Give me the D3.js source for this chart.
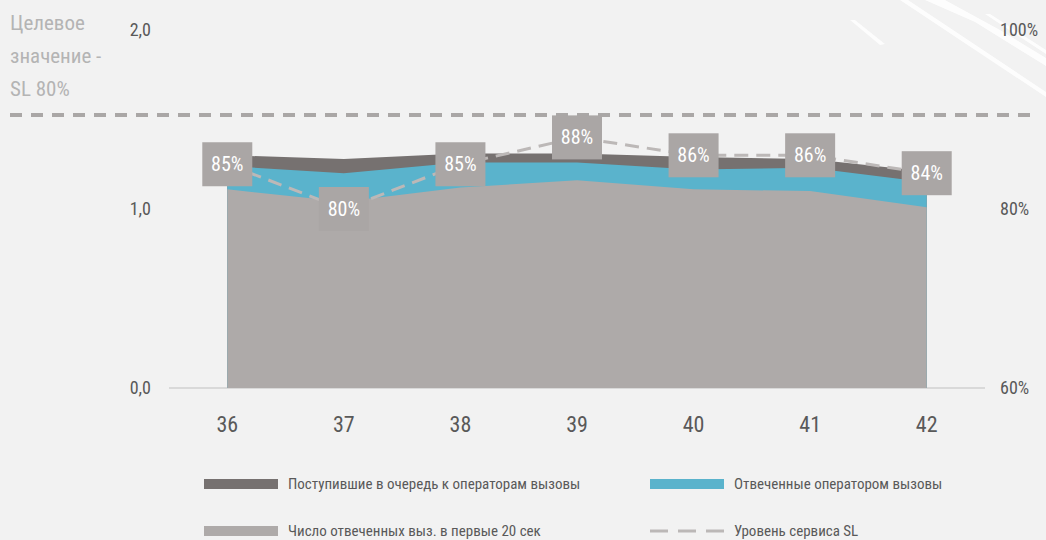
<!DOCTYPE html>
<html>
<head>
<meta charset="utf-8">
<script src="https://cdn.jsdelivr.net/npm/d3@7"></script>
<style>
  body { margin: 0; background: #f2f2f2; }
  svg { display: block; }
</style>
</head>
<body>
<div id="chart"></div>
<script>
//data to display
const weeks = [36, 37, 38, 39, 40, 41, 42];
const queued = [1.30, 1.28, 1.31, 1.31, 1.29, 1.28, 1.21];     // Поступившие в очередь
const answered = [1.24, 1.20, 1.26, 1.26, 1.22, 1.23, 1.15];   // Отвеченные оператором
const answered20 = [1.11, 1.04, 1.12, 1.16, 1.11, 1.10, 1.01]; // в первые 20 сек
const serviceLevel = [85, 80, 85, 88, 86, 86, 84];
const leftTicks = [0, 1, 2];
const rightTicks = [60, 80, 100];
const target = 80;

//Measures
const chartWidth = 1046;
const chartHeight = 540;
const plotTop = 30;
const plotBottom = 388;

//Colors
const darkColor = "#767170";
const blueColor = "#5ab3cc";
const grayColor = "#aeaaa9";
const labelColor = "#595959";
const dashColor = "#bcb8b7";

const fontFamily = "'Liberation Sans Narrow', 'Arial Narrow', 'Roboto Condensed', sans-serif";

const svg = d3.select('#chart').append('svg')
    .attr('width', chartWidth)
    .attr('height', chartHeight)
    .style('font-family', fontFamily);

const x = d3.scalePoint().domain(weeks).range([169, 985]).padding(0.5);
const yLeft = d3.scaleLinear().domain([0, 2]).range([plotBottom, plotTop]);
const yRight = d3.scaleLinear().domain([60, 100]).range([plotBottom, plotTop]);

drawBackground();
drawTarget();
drawAxes();
drawAreas();
drawServiceLevel();
drawLegend();

//decorative white brush strokes top right
function drawBackground() {
    const g = svg.append('g').attr('fill', '#ffffff').attr('opacity', 0.9);
    g.append('path').attr('d', 'M900,0 L908,0 L1046,92 L1046,97 Z');
    g.append('path').attr('d', 'M925,0 L945,0 L1000,30 L1046,58 L1046,66 L975,22 Z');
    g.append('path').attr('d', 'M850,20 L855,20 L885,44 L880,45 Z');
    g.append('path').attr('d', 'M985,14 L990,14 L1046,50 L1046,54 Z');
}

function drawTarget() {
    svg.append('line')
        .attr('x1', 10).attr('x2', 1036)
        .attr('y1', 115).attr('y2', 115)
        .attr('stroke', '#aaa7a6')
        .attr('stroke-width', 4)
        .attr('stroke-dasharray', '12,9');
    const lines = ['Целевое', 'значение -', 'SL ' + target + '%'];
    svg.append('g').selectAll('text').data(lines).join('text')
        .attr('x', 10)
        .attr('y', (d, i) => 23 + i * 33)
        .attr('dy', '0.35em')
        .attr('fill', '#b4b4b4')
        .attr('font-size', 21)
        .text(d => d);
}

function drawAxes() {
    svg.append('line')
        .attr('x1', 169).attr('x2', 985)
        .attr('y1', plotBottom).attr('y2', plotBottom)
        .attr('stroke', '#d9d9d9')
        .attr('stroke-width', 2);

    svg.append('g').selectAll('text').data(leftTicks).join('text')
        .attr('x', 151)
        .attr('y', d => yLeft(d))
        .attr('dy', '0.35em')
        .attr('text-anchor', 'end')
        .attr('fill', labelColor)
        .attr('font-size', 18)
        .text(d => d3.format('.1f')(d).replace('.', ','));

    svg.append('g').selectAll('text').data(rightTicks).join('text')
        .attr('x', 1000)
        .attr('y', d => yRight(d))
        .attr('dy', '0.35em')
        .attr('fill', labelColor)
        .attr('font-size', 18)
        .text(d => d + '%');

    svg.append('g').selectAll('text').data(weeks).join('text')
        .attr('x', d => x(d))
        .attr('y', 424)
        .attr('dy', '0.35em')
        .attr('text-anchor', 'middle')
        .attr('fill', labelColor)
        .attr('font-size', 22)
        .text(d => d);
}

function drawAreas() {
    const area = d3.area()
        .x((d, i) => x(weeks[i]))
        .y0(yLeft(0))
        .y1(d => yLeft(d));
    svg.append('path').datum(queued).attr('d', area).attr('fill', darkColor);
    svg.append('path').datum(answered).attr('d', area).attr('fill', blueColor);
    svg.append('path').datum(answered20).attr('d', area).attr('fill', grayColor);
}

function drawServiceLevel() {
    const line = d3.line()
        .x((d, i) => x(weeks[i]))
        .y(d => yRight(d));
    svg.append('path').datum(serviceLevel)
        .attr('d', line)
        .attr('fill', 'none')
        .attr('stroke', dashColor)
        .attr('stroke-width', 3)
        .attr('stroke-dasharray', '14,8');

    const g = svg.append('g').selectAll('g').data(serviceLevel).join('g')
        .attr('transform', (d, i) => `translate(${x(weeks[i])},${yRight(d)})`);
    g.append('rect')
        .attr('x', -25).attr('y', -22)
        .attr('width', 50).attr('height', 44)
        .attr('fill', '#aaa6a5');
    g.append('text')
        .attr('text-anchor', 'middle')
        .attr('dy', '0.35em')
        .attr('fill', '#ffffff')
        .attr('font-size', 20)
        .text(d => d + '%');
}

function drawLegend() {
    const items = [
        { label: 'Поступившие в очередь к операторам вызовы', color: darkColor, x: 204, y: 484 },
        { label: 'Отвеченные оператором вызовы', color: blueColor, x: 650, y: 484 },
        { label: 'Число отвеченных выз. в первые 20 сек', color: grayColor, x: 204, y: 531 },
        { label: 'Уровень сервиса SL', color: null, x: 650, y: 531 }
    ];
    const g = svg.append('g').selectAll('g').data(items).join('g')
        .attr('transform', d => `translate(${d.x},${d.y})`);
    g.filter(d => d.color).append('rect')
        .attr('x', 0).attr('y', -5)
        .attr('width', 74).attr('height', 10)
        .attr('fill', d => d.color);
    g.filter(d => !d.color).append('line')
        .attr('x1', 0).attr('x2', 74)
        .attr('stroke', dashColor)
        .attr('stroke-width', 3)
        .attr('stroke-dasharray', '18,10');
    g.append('text')
        .attr('x', 84)
        .attr('dy', '0.35em')
        .attr('fill', labelColor)
        .attr('font-size', 15)
        .text(d => d.label);
}
</script>
</body>
</html>
